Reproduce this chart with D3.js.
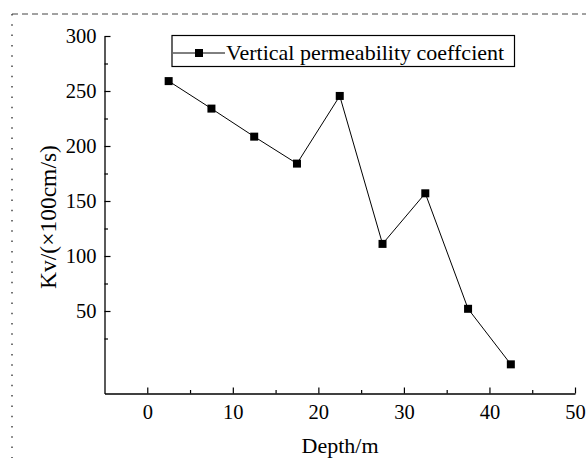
<!DOCTYPE html>
<html>
<head>
<meta charset="utf-8">
<script src="https://cdn.jsdelivr.net/npm/d3@7"></script>
<style>
  body { margin: 0; background: #fff; }
  text { font-family: "Liberation Serif", "Times New Roman", serif; fill: #000; }
</style>
</head>
<body>
<div id="graph"></div>
<script>
const depth = [2.5, 7.5, 12.5, 17.5, 22.5, 27.5, 32.5, 37.5, 42.5];
const kv = [259, 234, 208.5, 184, 245.5, 111, 157, 52, 1.5];
const xTicks = [0, 10, 20, 30, 40, 50];
const xMinor = [5, 15, 25, 35, 45];
const yTicks = [50, 100, 150, 200, 250, 300];
const yMinor = [25, 75, 125, 175, 225, 275];
const seriesName = "Vertical permeability coeffcient";

const W = 586, H = 458;

const svg = d3.select("#graph")
  .append("svg")
  .attr("width", W)
  .attr("height", H);

// frame lines around the figure
svg.append("line")
  .attr("x1", 12).attr("x2", W).attr("y1", 14).attr("y2", 14)
  .attr("stroke", "#444").attr("stroke-width", 1)
  .attr("stroke-dasharray", "6,4");
svg.append("line")
  .attr("x1", 12).attr("x2", 12).attr("y1", 14).attr("y2", H)
  .attr("stroke", "#444").attr("stroke-width", 1.5)
  .attr("stroke-dasharray", "1.5,8.8");

const x = d3.scaleLinear().domain([-5, 50]).range([104.5, 575]);
const y = d3.scaleLinear().domain([-25, 300]).range([393.5, 36]);

// x axis
svg.append("g")
  .attr("transform", "translate(0,393.5)")
  .call(d3.axisBottom(x).tickValues(xTicks).tickSizeInner(-6).tickSizeOuter(0).tickPadding(11));
svg.append("g")
  .attr("transform", "translate(0,393.5)")
  .call(d3.axisBottom(x).tickValues(xMinor).tickSizeInner(-3.5).tickSizeOuter(0).tickFormat(""))
  .select(".domain").remove();

// y axis
svg.append("g")
  .attr("transform", "translate(104.5,0)")
  .call(d3.axisLeft(y).tickValues(yTicks).tickSizeInner(-6).tickSizeOuter(0).tickPadding(8));
svg.append("g")
  .attr("transform", "translate(104.5,0)")
  .call(d3.axisLeft(y).tickValues(yMinor).tickSizeInner(-3.5).tickSizeOuter(0).tickFormat(""))
  .select(".domain").remove();

svg.selectAll(".domain").attr("stroke", "#000").attr("stroke-width", 1.3);
svg.selectAll(".tick line").attr("stroke", "#000").attr("stroke-width", 1.2);
svg.selectAll(".tick text")
  .attr("font-size", 20.5)
  .attr("fill", "#000");

// axis titles
svg.append("text")
  .attr("x", 340).attr("y", 453)
  .attr("text-anchor", "middle")
  .attr("font-size", 22)
  .text("Depth/m");

svg.append("text")
  .attr("transform", "translate(56,217) rotate(-90)")
  .attr("text-anchor", "middle")
  .attr("font-size", 23.5)
  .text("Kv/(\u00d7100cm/s)");

// series
const pts = depth.map((d, i) => [d, kv[i]]);
const line = d3.line().x(d => x(d[0])).y(d => y(d[1]));

svg.append("path")
  .datum(pts)
  .attr("d", line)
  .attr("fill", "none")
  .attr("stroke", "#000")
  .attr("stroke-width", 1);

const ms = 8;
svg.selectAll("rect.dot")
  .data(pts)
  .enter().append("rect")
  .attr("class", "dot")
  .attr("x", d => x(d[0]) - ms / 2)
  .attr("y", d => y(d[1]) - ms / 2)
  .attr("width", ms)
  .attr("height", ms)
  .attr("fill", "#000");

// legend
const legend = svg.append("g").attr("transform", "translate(172,35.5)");
legend.append("rect")
  .attr("width", 342.5).attr("height", 31)
  .attr("fill", "#fff").attr("stroke", "#000").attr("stroke-width", 1.2);
legend.append("line")
  .attr("x1", 1).attr("x2", 53).attr("y1", 17.5).attr("y2", 17.5)
  .attr("stroke", "#000").attr("stroke-width", 1);
legend.append("rect")
  .attr("x", 27 - ms / 2).attr("y", 17.5 - ms / 2)
  .attr("width", ms).attr("height", ms)
  .attr("fill", "#000");
legend.append("text")
  .attr("x", 54).attr("y", 24.5)
  .attr("font-size", 22)
  .text(seriesName);
</script>
</body>
</html>
